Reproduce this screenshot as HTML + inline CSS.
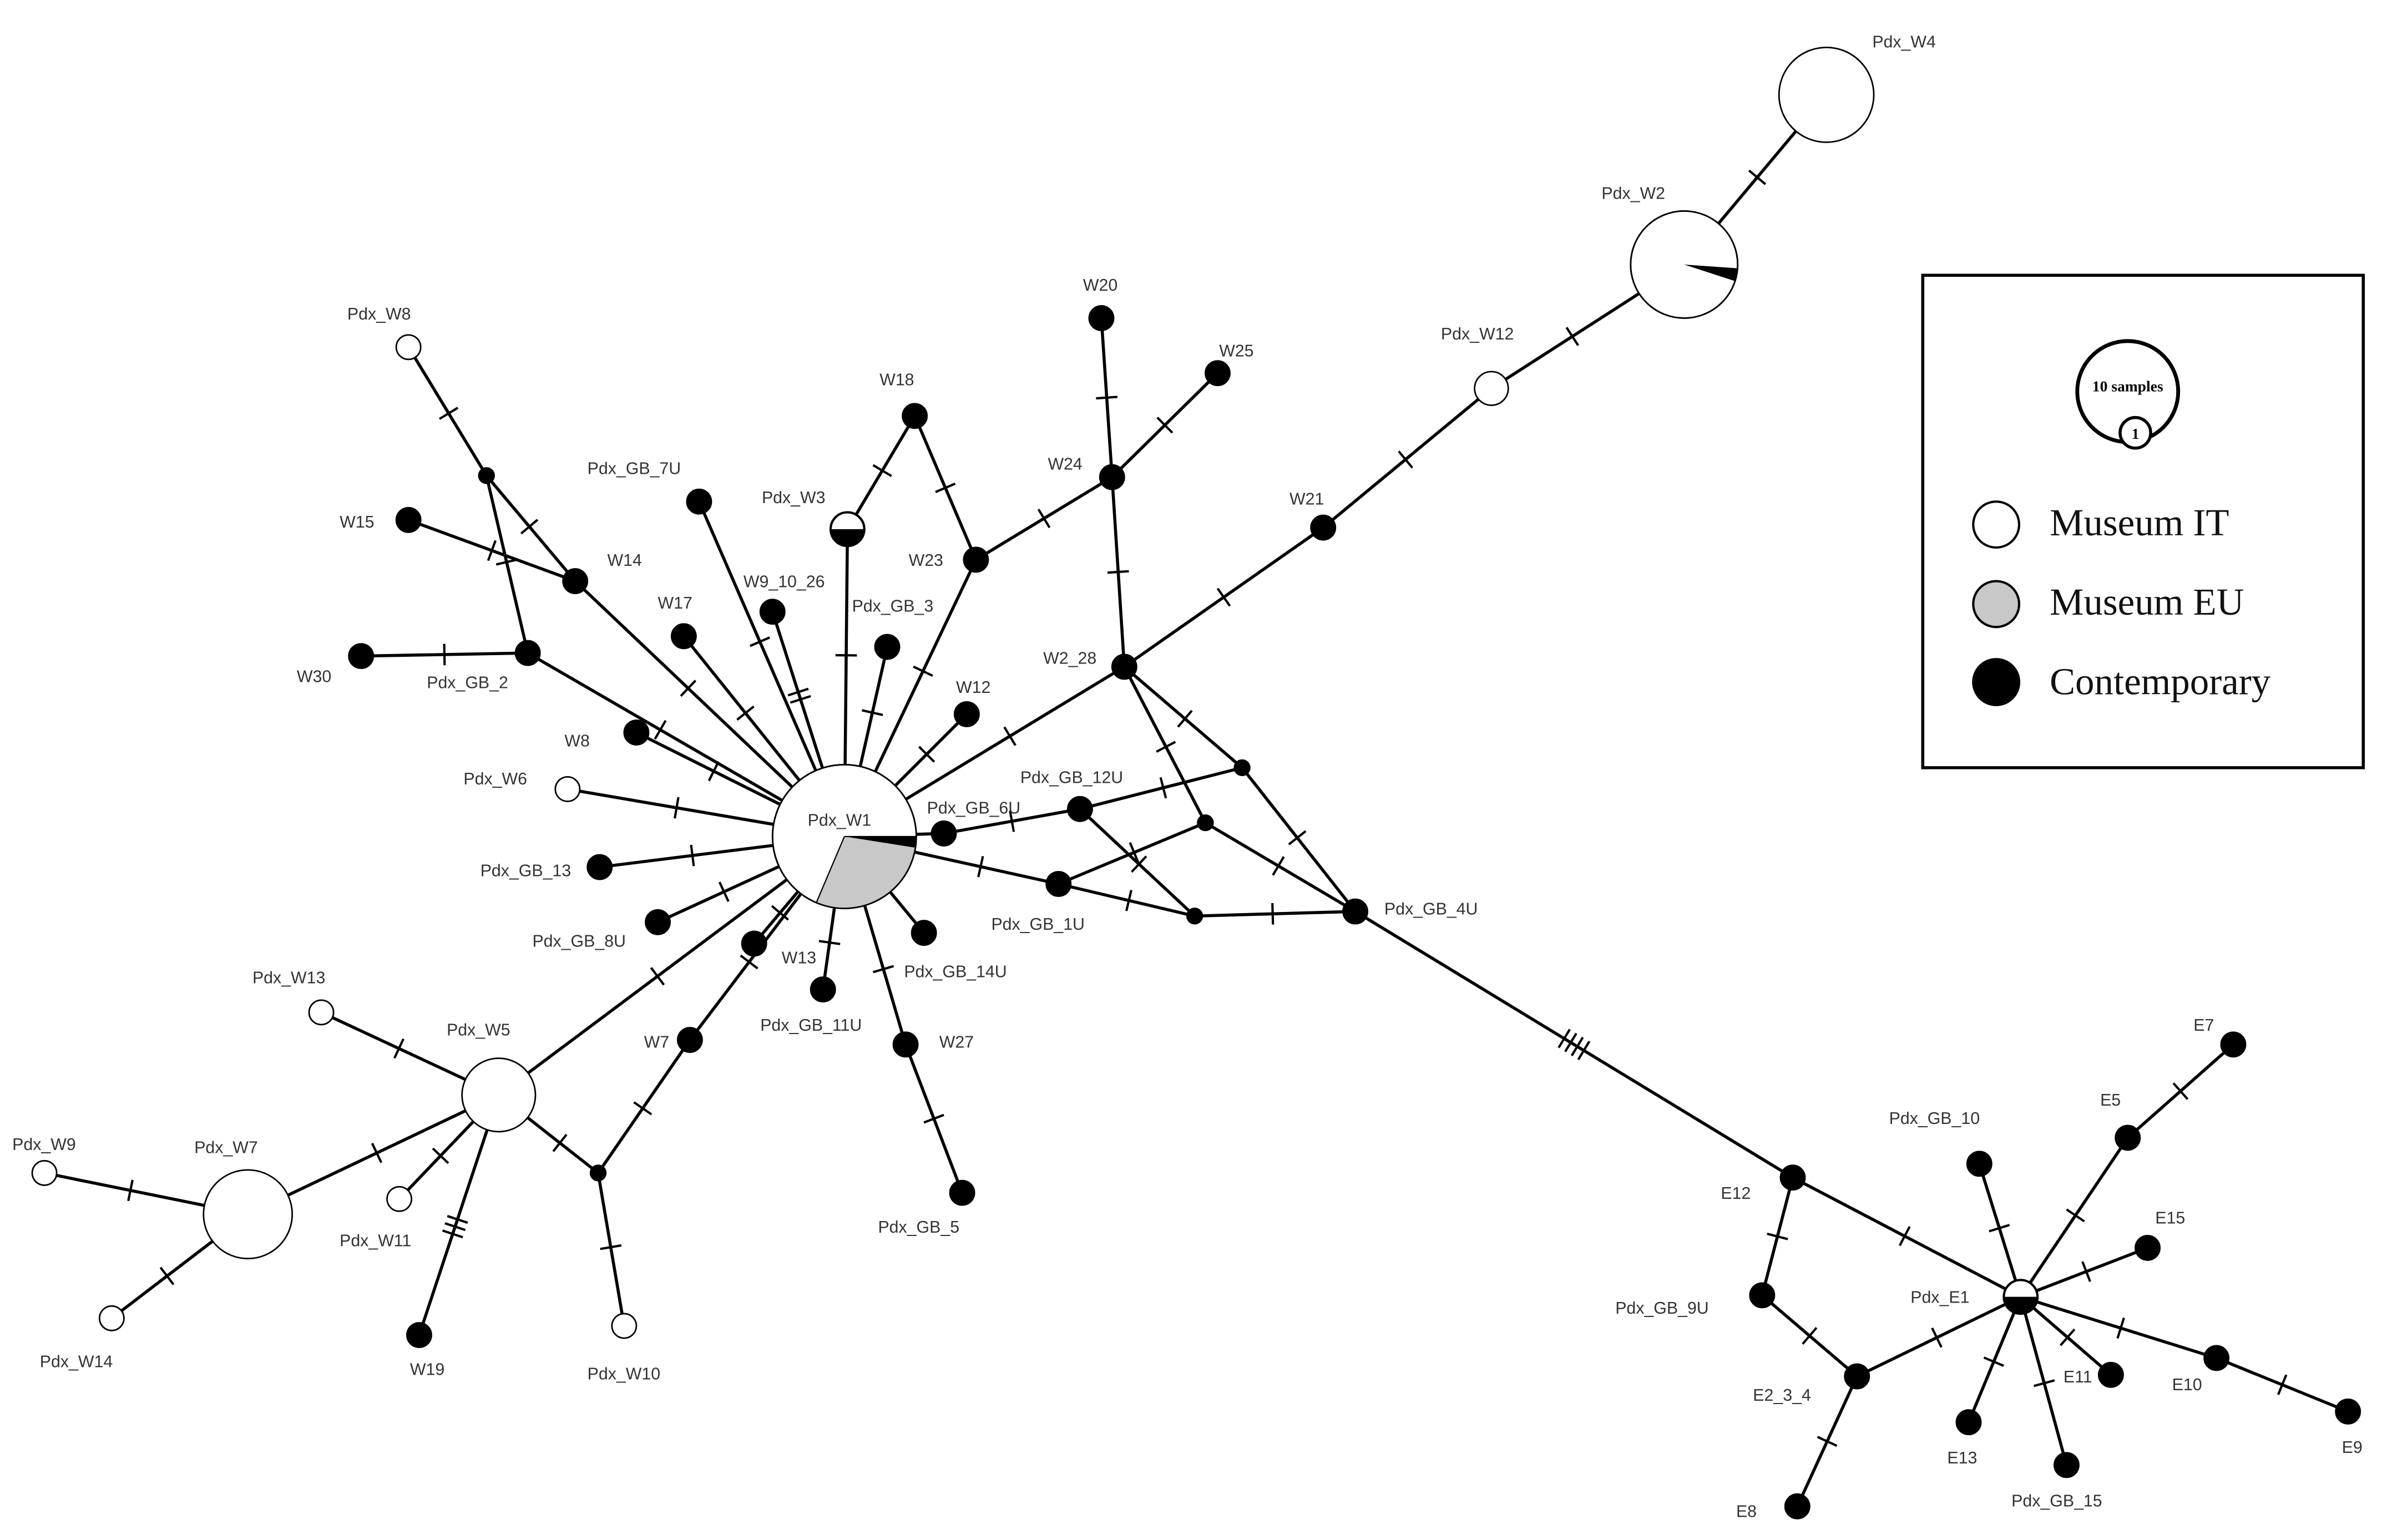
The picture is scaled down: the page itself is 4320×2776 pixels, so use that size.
<!DOCTYPE html>
<html><head><meta charset="utf-8">
<style>
html,body{margin:0;padding:0;background:#fff;}
svg{display:block;}
text{font-family:"Liberation Sans",sans-serif;font-size:11px;fill:#333;}
.leg{font-family:"Liberation Serif",serif;font-size:25px;fill:#111;}
</style></head>
<body>
<svg id="s" width="4320" height="2776" viewBox="0 0 1567 1007" xmlns="http://www.w3.org/2000/svg">
<g id="edges" stroke="#000" stroke-width="2" fill="none"></g>
<g id="nodes" stroke="#000" stroke-width="1"></g>
<g id="labels">
<text x="1224" y="31">Pdx_W4</text>
<text x="1047" y="130">Pdx_W2</text>
<text x="942" y="222">Pdx_W12</text>
<text x="843" y="330">W21</text>
<text x="682" y="434">W2_28</text>
<text x="685" y="307">W24</text>
<text x="708" y="190">W20</text>
<text x="797" y="233">W25</text>
<text x="594" y="370">W23</text>
<text x="575" y="252">W18</text>
<text x="498" y="329">Pdx_W3</text>
<text x="384" y="310">Pdx_GB_7U</text>
<text x="486" y="384">W9_10_26</text>
<text x="557" y="400">Pdx_GB_3</text>
<text x="625" y="453">W12</text>
<text x="430" y="398">W17</text>
<text x="397" y="370">W14</text>
<text x="222" y="345">W15</text>
<text x="227" y="209">Pdx_W8</text>
<text x="279" y="450">Pdx_GB_2</text>
<text x="194" y="446">W30</text>
<text x="369" y="488">W8</text>
<text x="303" y="513">Pdx_W6</text>
<text x="314" y="573">Pdx_GB_13</text>
<text x="348" y="619">Pdx_GB_8U</text>
<text x="511" y="630">W13</text>
<text x="497" y="674">Pdx_GB_11U</text>
<text x="591" y="639">Pdx_GB_14U</text>
<text x="614" y="685">W27</text>
<text x="574" y="806">Pdx_GB_5</text>
<text x="421" y="685">W7</text>
<text x="384" y="902">Pdx_W10</text>
<text x="292" y="677">Pdx_W5</text>
<text x="165" y="643">Pdx_W13</text>
<text x="222" y="815">Pdx_W11</text>
<text x="268" y="899">W19</text>
<text x="127" y="754">Pdx_W7</text>
<text x="8" y="752">Pdx_W9</text>
<text x="26" y="894">Pdx_W14</text>
<text x="528" y="540">Pdx_W1</text>
<text x="606" y="532">Pdx_GB_6U</text>
<text x="667" y="512">Pdx_GB_12U</text>
<text x="648" y="608">Pdx_GB_1U</text>
<text x="905" y="598">Pdx_GB_4U</text>
<text x="1125" y="784">E12</text>
<text x="1056" y="859">Pdx_GB_9U</text>
<text x="1146" y="916">E2_3_4</text>
<text x="1135" y="992">E8</text>
<text x="1235" y="735">Pdx_GB_10</text>
<text x="1249" y="852">Pdx_E1</text>
<text x="1373" y="723">E5</text>
<text x="1434" y="674">E7</text>
<text x="1409" y="800">E15</text>
<text x="1349" y="904">E11</text>
<text x="1420" y="909">E10</text>
<text x="1531" y="950">E9</text>
<text x="1273" y="957">E13</text>
<text x="1315" y="985">Pdx_GB_15</text>
</g>
<g id="legend">
<rect x="1257" y="180" width="288" height="322" fill="#fff" stroke="#000" stroke-width="2"/>
<circle cx="1391" cy="256" r="33" fill="#fff" stroke="#000" stroke-width="2.5"/>
<text x="1391" y="256" text-anchor="middle" style="font-family:'Liberation Serif',serif;font-size:10px;font-weight:bold;fill:#000">10 samples</text>
<circle cx="1396" cy="283" r="10" fill="#fff" stroke="#000" stroke-width="2"/>
<text x="1396" y="287" text-anchor="middle" style="font-family:'Liberation Serif',serif;font-size:10px;font-weight:bold;fill:#000">1</text>
<circle cx="1305" cy="343" r="15" fill="#fff" stroke="#000" stroke-width="1.5"/>
<circle cx="1305" cy="395" r="15" fill="#c8c8c8" stroke="#000" stroke-width="1.5"/>
<circle cx="1305" cy="446" r="15" fill="#000" stroke="#000" stroke-width="1.5"/>
<text class="leg" x="1340" y="350">Museum IT</text>
<text class="leg" x="1340" y="402">Museum EU</text>
<text class="leg" x="1340" y="454">Contemporary</text>
</g>
</svg>
<script>
var N={
W1:[552,547,47,'w'],W2:[1101,173,35,'w'],W4:[1194,62,31,'w'],PW12:[975,254,11,'w'],
W21:[865,345,8,'b'],W228:[735,436,8,'b'],W24:[727,312,8,'b'],W20:[720,208,8,'b'],W25:[796,244,8,'b'],
W23:[638,366,8,'b'],W18:[598,272,8,'b'],W3:[554,346,11,'h'],GB7:[457,328,8,'b'],W9:[505,400,8,'b'],
GB3:[580,423,8,'b'],W12:[632,467,8,'b'],W17:[447,416,8,'b'],W14:[376,380,8,'b'],W15:[267,340,8,'b'],
s1:[318,311,5,'b'],PW8:[267,227,8,'w'],GB2:[345,427,8,'b'],W30:[236,429,8,'b'],W8:[416,479,8,'b'],
PW6:[371,516,8,'w'],GB13:[392,567,8,'b'],GB8:[430,603,8,'b'],W13:[493,617,8,'b'],GB11:[538,647,8,'b'],
GB14:[604,610,8,'b'],W27:[592,683,8,'b'],GB5:[629,780,8,'b'],W7:[451,680,8,'b'],s2:[391,767,5,'b'],
PW10:[408,867,8,'w'],PW5:[326,716,24,'w'],PW13:[210,662,8,'w'],PW11:[261,784,8,'w'],W19:[274,873,8,'b'],
PW7:[162,794,29,'w'],PW9:[29,767,8,'w'],PW14:[73,862,8,'w'],GB6:[617,545,8,'b'],GB12:[706,529,8,'b'],
GB1:[692,578,8,'b'],s3:[812,502,5,'b'],s4:[788,538,5,'b'],s5:[781,599,5,'b'],GB4:[886,596,8,'b'],
E12:[1172,770,8,'b'],E1:[1321,848,11,'h'],GB9:[1152,847,8,'b'],E2:[1214,900,8,'b'],E8:[1175,985,8,'b'],
GB10:[1294,761,8,'b'],E5:[1391,744,8,'b'],E7:[1460,683,8,'b'],E15:[1404,816,8,'b'],E11:[1380,899,8,'b'],
E10:[1449,888,8,'b'],E9:[1535,923,8,'b'],E13:[1287,930,8,'b'],GB15:[1351,958,8,'b']};
var E=[['W4','W2',1],['W2','PW12',1],['PW12','W21',1],['W21','W228',1],['W228','W1',1],['W228','W24',1],
['W24','W20',1],['W24','W25',1],['W24','W23',1],['W23','W18',1],['W18','W3',1],['W3','W1',1],['W23','W1',1],
['GB7','W1',1],['W9','W1',2],['GB3','W1',1],['W12','W1',1],['W17','W1',1],['W14','W1',1],['W14','s1',1],
['W15','W14',1],['s1','PW8',1],['s1','GB2',1],['GB2','W30',1],['GB2','W1',1],['W8','W1',1],['PW6','W1',1],
['GB13','W1',1],['GB8','W1',1],['W13','W1',1],['GB11','W1',1],['GB14','W1',0],['W27','W1',1],['W27','GB5',1],
['W1','PW5',1],['W1','W7',1],['W7','s2',1],['s2','PW10',1],['s2','PW5',1],['PW5','PW13',1],['PW5','PW11',1],
['PW5','W19',3],['PW5','PW7',1],['PW7','PW9',1],['PW7','PW14',1],['W1','GB6',0],['GB6','GB12',1],['GB12','s3',1],
['GB12','s5',1],['W1','GB1',1],['GB1','s4',1],['s4','GB4',1],['GB1','s5',1],['s5','GB4',1],['W228','s3',1],
['s3','GB4',1],['W228','s4',1],['GB4','E12',4],['E12','E1',1],['E12','GB9',1],['GB9','E2',1],['E2','E1',1],
['E2','E8',1],['E1','GB10',1],['E1','E5',1],['E5','E7',1],['E1','E15',1],['E1','E11',1],['E1','E10',1],
['E10','E9',1],['E1','E13',1],['E1','GB15',1]];
var ns='http://www.w3.org/2000/svg',eg=document.getElementById('edges'),ng=document.getElementById('nodes');
function el(t,a,p){var e=document.createElementNS(ns,t);for(var k in a)e.setAttribute(k,a[k]);p.appendChild(e);return e;}
E.forEach(function(e){var a=N[e[0]],b=N[e[1]];
el('line',{x1:a[0],y1:a[1],x2:b[0],y2:b[1]},eg);
var dx=b[0]-a[0],dy=b[1]-a[1],L=Math.hypot(dx,dy),ux=dx/L,uy=dy/L,px=-uy,py=ux;
var s0=a[2],s1=L-b[2],m=(s0+s1)/2;
for(var i=0;i<e[2];i++){var t=m+(i-(e[2]-1)/2)*5,cx=a[0]+ux*t,cy=a[1]+uy*t;
el('line',{x1:cx-px*7,y1:cy-py*7,x2:cx+px*7,y2:cy+py*7,'stroke-width':1.5},eg);}});
function wedge(c,a1,a2,fill){var r=c[2],x1=c[0]+r*Math.cos(a1*Math.PI/180),y1=c[1]+r*Math.sin(a1*Math.PI/180),
x2=c[0]+r*Math.cos(a2*Math.PI/180),y2=c[1]+r*Math.sin(a2*Math.PI/180);
el('path',{d:'M'+c[0]+' '+c[1]+'L'+x1+' '+y1+'A'+r+' '+r+' 0 '+((a2-a1)>180?1:0)+' 1 '+x2+' '+y2+'Z',fill:fill,stroke:'none'},ng);}
for(var k in N){var n=N[k];
var c=el('circle',{cx:n[0],cy:n[1],r:n[2],fill:n[3]=='b'?'#000':'#fff'},ng);
if(k=='W1'){wedge(n,0,9,'#000');wedge(n,9,113,'#c8c8c8');
el('path',{d:'M'+n[0]+' '+n[1]+'L'+(n[0]+47)+' '+n[1]+'M'+n[0]+' '+n[1]+'L'+(n[0]+47*Math.cos(113*Math.PI/180))+' '+(n[1]+47*Math.sin(113*Math.PI/180)),stroke:'#000','stroke-width':0.8},ng);
el('circle',{cx:n[0],cy:n[1],r:n[2],fill:'none'},ng);}
if(k=='W2'){wedge(n,4,18,'#000');el('circle',{cx:n[0],cy:n[1],r:n[2],fill:'none'},ng);}
if(n[3]=='h'){wedge(n,0,180,'#000');el('circle',{cx:n[0],cy:n[1],r:n[2],fill:'none','stroke-width':1.5},ng);}
}
</script>
</body></html>
